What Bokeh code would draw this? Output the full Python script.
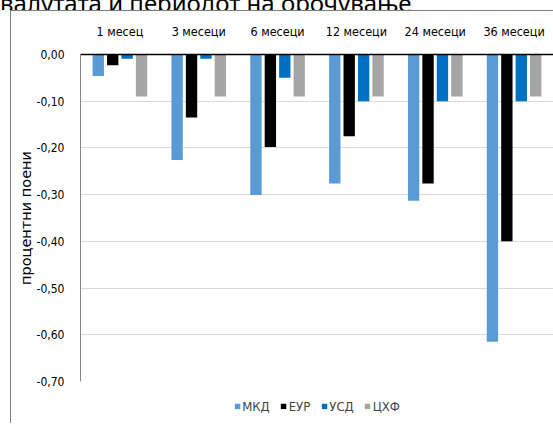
from bokeh.plotting import figure
from bokeh.layouts import column
from bokeh.models import (FactorRange, Range1d, ColumnDataSource, Legend, LegendItem,
                          CustomJSTickFormatter, FixedTicker, Div)
from bokeh.transform import dodge
from bokeh.embed import file_html
from bokeh.resources import INLINE

title_text = "валутата и периодот на орочување"
categories = ["1 месец", "3 месеци", "6 месеци", "12 месеци", "24 месеци", "36 месеци"]
series_names = ["МКД", "ЕУР", "УСД", "ЦХФ"]
mkd = [-0.046, -0.226, -0.301, -0.276, -0.313, -0.615]
eur = [-0.023, -0.135, -0.198, -0.175, -0.276, -0.400]
usd = [-0.009, -0.009, -0.050, -0.100, -0.100, -0.100]
chf = [-0.090, -0.090, -0.090, -0.090, -0.090, -0.090]
yticks = [0.0, -0.1, -0.2, -0.3, -0.4, -0.5, -0.6, -0.7]
colors = ["#5b9bd5", "#000000", "#0070c0", "#a5a5a5"]

source = ColumnDataSource(dict(cat=categories, МКД=mkd, ЕУР=eur, УСД=usd, ЦХФ=chf))

FONT = "DejaVu Sans Condensed"

p = figure(x_range=FactorRange(*categories), y_range=Range1d(-0.7, 0),
           width=542, height=378, output_backend="svg", toolbar_location=None,
           x_axis_location="above", min_border_left=69, min_border_right=0,
           min_border_top=43, min_border_bottom=8)
p.outline_line_color = None

pitch = 0.183
bw = 0.144
for i, (name, col) in enumerate(zip(series_names, colors)):
    p.vbar(x=dodge("cat", (i - 1.5) * pitch, range=p.x_range), top=name, bottom=0,
           width=bw, source=source, fill_color=col, line_color=None)

p.xaxis.axis_line_color = "#000000"
p.xaxis.axis_line_width = 1.5
p.xaxis.major_tick_line_color = None
p.xaxis.minor_tick_line_color = None
p.xaxis.major_tick_out = 0
p.xaxis.major_tick_in = 0
p.xaxis.major_label_text_font = FONT
p.xaxis.major_label_text_font_size = "12.5px"
p.xaxis.major_label_text_color = "#000000"
p.xaxis.major_label_standoff = 16

p.xgrid.grid_line_color = None
p.ygrid.grid_line_color = "#d9d9d9"
p.ygrid.grid_line_width = 1
p.yaxis.ticker = FixedTicker(ticks=yticks)
p.yaxis.formatter = CustomJSTickFormatter(code="return tick.toFixed(2).replace('.', ',');")
p.yaxis.axis_line_color = "#868686"
p.yaxis.major_tick_line_color = None
p.yaxis.minor_tick_line_color = None
p.yaxis.major_tick_out = 0
p.yaxis.major_tick_in = 0
p.yaxis.major_label_text_font = FONT
p.yaxis.major_label_text_font_size = "12px"
p.yaxis.major_label_text_color = "#000000"
p.yaxis.major_label_standoff = 16
p.yaxis.axis_label = "процентни поени"
p.yaxis.axis_label_text_font = "DejaVu Sans"
p.yaxis.axis_label_text_font_style = "normal"
p.yaxis.axis_label_text_font_size = "14.5px"
p.yaxis.axis_label_text_color = "#000000"
p.yaxis.axis_label_standoff = 0

# legend strip below the chart
leg = figure(width=542, height=34, output_backend="svg", toolbar_location=None,
             x_axis_location=None, y_axis_location=None,
             x_range=Range1d(0, 1), y_range=Range1d(0, 1),
             min_border_left=0, min_border_right=0, min_border_top=0, min_border_bottom=0)
leg.outline_line_color = None
leg.grid.grid_line_color = None
items = []
for name, col in zip(series_names, colors):
    d = leg.vbar(x=[5], top=[5], width=0.1, fill_color=col, line_color=None)
    items.append(LegendItem(label=name, renderers=[d]))
legend = Legend(items=items, orientation="horizontal", location="center",
                label_text_font=FONT, label_text_font_size="13px",
                glyph_width=7, glyph_height=7, label_standoff=2, spacing=10,
                border_line_color=None, background_fill_alpha=0, margin=0, padding=2)
leg.add_layout(legend, "center")

title_div = Div(text='<div style="font-family:\'Noto Sans\';font-size:24px;line-height:24px;'
                     'margin-top:-13px;white-space:nowrap;color:#000;">' + title_text + '</div>',
                width=553, height=10, margin=0, styles={"overflow": "hidden"})

body = column(p, leg, margin=(0, 0, 0, 10),
              styles={"border-left": "1px solid #7f7f7f", "border-top": "1px solid #7f7f7f"})
root = column(title_div, body)

open("out.html", "w").write(file_html(root, INLINE))
